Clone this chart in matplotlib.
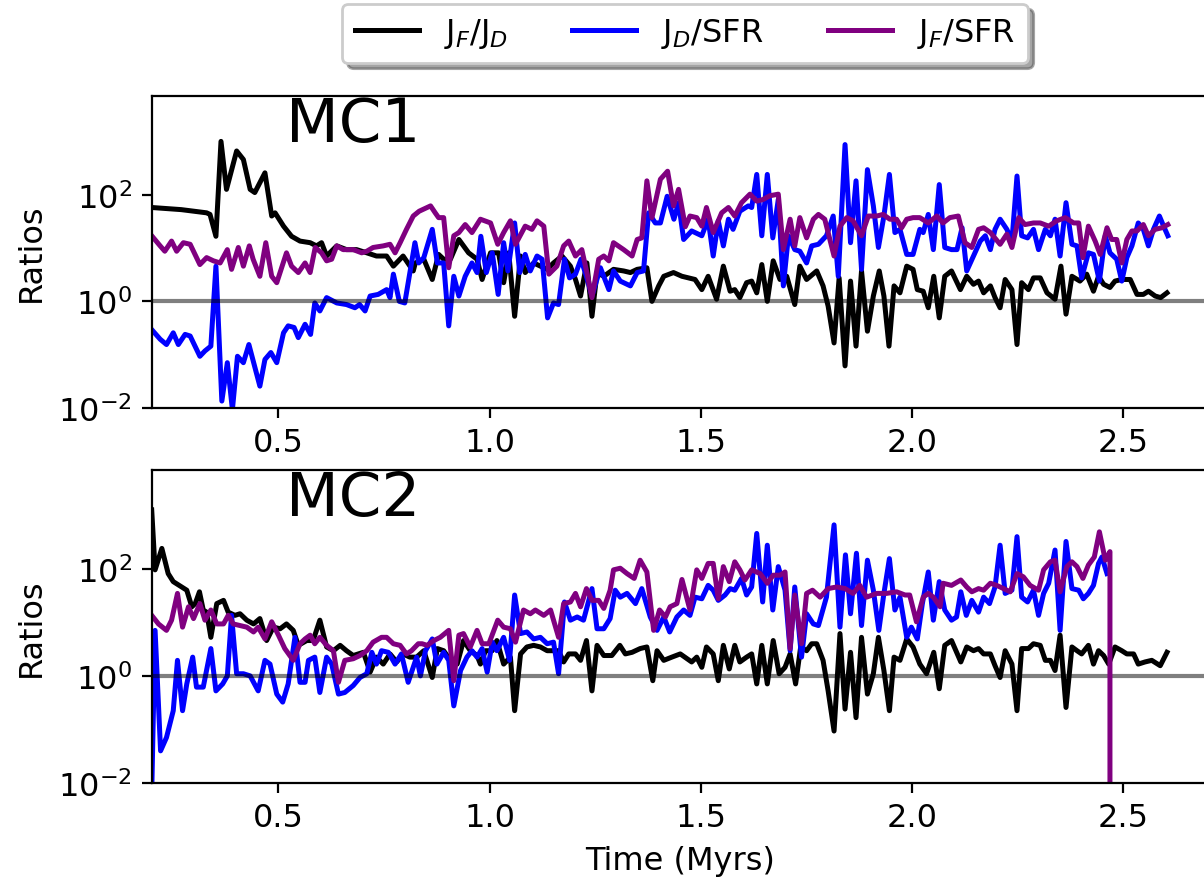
import numpy as np
import matplotlib
matplotlib.use('Agg')
import matplotlib.pyplot as plt
from matplotlib.ticker import NullLocator

plt.rcParams['font.size'] = 11.5

# values: (time in Myrs, log10 of the ratio)
# MC1 -- J_F/J_D
mc1_jf_jd = [(0.200, 1.76), (0.270, 1.72), (0.330, 1.66), (0.338, 1.63), (0.352, 1.22), (0.364, 3.0),
             (0.377, 2.1), (0.401, 2.82), (0.417, 2.66), (0.433, 2.1), (0.444, 2.04), (0.468, 2.41),
             (0.484, 1.6), (0.492, 1.66), (0.512, 1.41), (0.531, 1.22), (0.551, 1.13), (0.575, 1.1),
             (0.590, 1.04), (0.602, 1.1), (0.614, 0.85), (0.638, 1.04), (0.661, 0.97), (0.685, 0.97),
             (0.709, 0.91), (0.732, 0.85), (0.756, 0.85), (0.772, 0.66), (0.795, 0.85), (0.819, 0.57),
             (0.824, 0.72), (0.844, 0.79), (0.864, 0.41), (0.879, 0.88), (0.891, 0.79), (0.907, 0.79),
             (0.927, 1.16), (0.950, 0.91), (0.970, 0.79), (0.982, 0.41), (1.002, 0.91), (1.021, 0.91),
             (1.033, 0.35), (1.045, 0.91), (1.059, -0.28), (1.073, 0.85), (1.084, 0.54), (1.104, 0.72),
             (1.120, 0.66), (1.136, 0.6), (1.151, 0.72), (1.171, 0.85), (1.191, 0.66), (1.203, 0.41),
             (1.215, 0.1), (1.230, 0.72), (1.242, -0.28), (1.254, 0.54), (1.270, 0.47), (1.293, 0.6),
             (1.317, 0.57), (1.333, 0.54), (1.349, 0.6), (1.372, 0.63), (1.384, 0.0), (1.400, 0.29),
             (1.412, 0.47), (1.435, 0.54), (1.455, 0.47), (1.486, 0.41), (1.502, 0.22), (1.517, 0.47),
             (1.537, 0.04), (1.553, 0.66), (1.569, 0.19), (1.580, 0.22), (1.592, 0.07), (1.608, 0.35),
             (1.620, 0.38), (1.632, 0.16), (1.644, 0.69), (1.657, 0.0), (1.671, 0.76), (1.687, 0.41),
             (1.703, 0.47), (1.722, -0.06), (1.734, 0.66), (1.750, 0.41), (1.774, 0.57), (1.789, 0.29),
             (1.801, -0.09), (1.815, -0.78), (1.827, 0.44), (1.841, -1.21), (1.854, 0.38), (1.867, -0.84),
             (1.880, 0.57), (1.894, -0.56), (1.908, 0.1), (1.922, 0.57), (1.933, 0.1), (1.945, -0.84),
             (1.957, 0.29), (1.971, 0.16), (1.987, 0.66), (2.002, 0.6), (2.012, 0.22), (2.026, 0.19),
             (2.038, -0.12), (2.051, 0.47), (2.064, -0.31), (2.077, 0.47), (2.093, 0.57), (2.114, 0.22),
             (2.129, 0.47), (2.145, 0.32), (2.157, 0.38), (2.169, 0.16), (2.185, 0.29), (2.196, 0.07),
             (2.208, -0.12), (2.220, 0.41), (2.236, 0.22), (2.248, -0.81), (2.259, 0.35), (2.275, 0.22),
             (2.287, 0.44), (2.303, 0.44), (2.319, 0.16), (2.338, 0.04), (2.352, 0.66), (2.364, -0.24),
             (2.378, 0.47), (2.397, 0.38), (2.413, 0.51), (2.429, 0.19), (2.441, 0.47), (2.453, 0.32),
             (2.468, 0.26), (2.480, 0.38), (2.496, 0.41), (2.516, 0.41), (2.532, 0.13), (2.547, 0.13),
             (2.559, 0.19), (2.575, 0.1), (2.588, 0.07), (2.603, 0.16)]

# MC1 -- J_D/SFR
mc1_jd_sfr = [(0.200, -0.53), (0.220, -0.71), (0.235, -0.81), (0.251, -0.59), (0.263, -0.81), (0.279, -0.62),
              (0.291, -0.65), (0.314, -1.03), (0.326, -0.93), (0.340, -0.84), (0.352, 0.66), (0.366, -1.87),
              (0.379, -1.15), (0.391, -2.03), (0.403, -1.03), (0.417, -1.15), (0.430, -0.81), (0.456, -1.59),
              (0.468, -1.09), (0.482, -0.96), (0.496, -1.15), (0.512, -0.59), (0.523, -0.46), (0.537, -0.49),
              (0.547, -0.68), (0.563, -0.43), (0.576, -0.62), (0.586, -0.03), (0.598, -0.18), (0.614, 0.07),
              (0.638, -0.03), (0.661, -0.06), (0.681, -0.12), (0.692, -0.06), (0.705, -0.18), (0.717, 0.10),
              (0.736, 0.13), (0.756, 0.22), (0.764, 0.07), (0.772, 0.51), (0.786, 0.00), (0.799, -0.03),
              (0.823, 1.10), (0.832, 0.72), (0.844, 0.82), (0.864, 1.35), (0.876, 0.72), (0.891, 0.72),
              (0.903, -0.46), (0.915, 0.47), (0.927, 0.10), (0.942, 0.47), (0.958, 0.72), (0.970, 0.54),
              (0.979, 1.22), (0.992, 0.54), (1.006, 0.91), (1.020, 0.13), (1.033, 1.10), (1.043, 0.57),
              (1.059, 1.47), (1.071, 0.54), (1.084, 0.88), (1.096, 0.57), (1.112, 0.85), (1.124, 0.79),
              (1.137, -0.31), (1.151, -0.03), (1.163, -0.06), (1.177, 0.79), (1.189, 0.44), (1.203, 0.51),
              (1.216, 0.79), (1.230, 0.44), (1.242, 0.10), (1.262, 0.63), (1.282, 0.22), (1.293, 0.57),
              (1.309, 0.38), (1.333, 0.29), (1.349, 0.54), (1.364, 0.57), (1.376, 1.66), (1.392, 1.47),
              (1.404, 1.47), (1.420, 1.97), (1.436, 1.54), (1.447, 1.85), (1.459, 1.16), (1.478, 1.32),
              (1.502, 1.23), (1.517, 1.54), (1.529, 0.85), (1.541, 1.51), (1.553, 1.04), (1.565, 1.54),
              (1.576, 1.35), (1.592, 1.69), (1.612, 1.79), (1.620, 1.76), (1.632, 2.38), (1.644, 1.23),
              (1.657, 2.38), (1.670, 1.19), (1.683, 1.91), (1.695, 0.29), (1.707, 1.23), (1.722, 0.97),
              (1.734, 0.94), (1.750, 0.72), (1.762, 1.04), (1.778, 1.07), (1.797, 1.23), (1.813, 1.6),
              (1.825, 0.47), (1.841, 2.94), (1.854, 1.1), (1.867, 2.26), (1.880, 0.6), (1.894, 2.47),
              (1.908, 1.79), (1.920, 1.01), (1.933, 1.6), (1.946, 2.38), (1.959, 1.29), (1.971, 1.35),
              (1.987, 0.88), (2.002, 0.88), (2.018, 1.35), (2.026, 1.29), (2.038, 1.63), (2.050, 0.97),
              (2.064, 2.19), (2.077, 1.01), (2.093, 0.97), (2.106, 0.97), (2.118, 1.38), (2.129, 0.57),
              (2.145, 0.85), (2.161, 1.13), (2.173, 1.23), (2.185, 0.97), (2.196, 1.35), (2.208, 1.54),
              (2.224, 1.35), (2.236, 1.13), (2.248, 2.35), (2.259, 1.23), (2.273, 1.19), (2.287, 1.35),
              (2.299, 0.97), (2.315, 1.35), (2.327, 1.23), (2.338, 1.54), (2.350, 0.85), (2.364, 1.85),
              (2.378, 1.07), (2.390, 1.04), (2.401, 0.44), (2.417, 0.91), (2.429, 0.88), (2.443, 0.38),
              (2.457, 1.23), (2.468, 0.91), (2.484, 0.79), (2.496, 0.38), (2.508, 0.82), (2.520, 1.04),
              (2.535, 1.47), (2.547, 1.35), (2.559, 1.04), (2.571, 1.35), (2.585, 1.6), (2.595, 1.41),
              (2.605, 1.23)]

# MC1 -- J_F/SFR
mc1_jf_sfr = [(0.200, 1.23), (0.220, 1.04), (0.231, 0.94), (0.247, 1.13), (0.259, 0.94), (0.275, 1.1),
              (0.291, 1.07), (0.314, 0.69), (0.330, 0.82), (0.346, 0.76), (0.362, 0.72), (0.379, 0.97),
              (0.389, 0.6), (0.405, 1.01), (0.417, 0.66), (0.431, 1.04), (0.440, 0.79), (0.456, 0.47),
              (0.470, 1.1), (0.484, 0.47), (0.496, 0.35), (0.519, 0.91), (0.531, 0.66), (0.547, 0.54),
              (0.563, 0.72), (0.575, 0.54), (0.587, 1.01), (0.602, 0.91), (0.614, 0.76), (0.626, 0.79),
              (0.638, 1.04), (0.653, 0.97), (0.677, 0.97), (0.697, 0.91), (0.709, 0.94), (0.724, 1.01),
              (0.748, 1.04), (0.764, 1.07), (0.776, 0.91), (0.788, 1.1), (0.803, 1.35), (0.819, 1.6),
              (0.833, 1.69), (0.844, 1.73), (0.860, 1.79), (0.871, 1.66), (0.879, 1.57), (0.891, 1.57),
              (0.903, 0.63), (0.915, 1.23), (0.927, 1.29), (0.942, 1.44), (0.958, 1.29), (0.978, 1.54),
              (1.002, 1.47), (1.019, 1.07), (1.033, 1.29), (1.049, 1.51), (1.061, 1.07), (1.084, 1.41),
              (1.100, 1.35), (1.112, 1.51), (1.128, 1.41), (1.140, 0.51), (1.159, 0.66), (1.175, 1.04),
              (1.187, 1.13), (1.203, 0.85), (1.218, 0.97), (1.230, 0.54), (1.242, 0.07), (1.258, 0.79),
              (1.270, 0.85), (1.282, 0.76), (1.293, 1.1), (1.317, 0.97), (1.337, 0.85), (1.349, 1.16),
              (1.360, 1.19), (1.372, 2.26), (1.384, 1.57), (1.404, 2.29), (1.421, 2.44), (1.435, 1.79),
              (1.447, 2.1), (1.463, 1.4), (1.474, 1.6), (1.490, 1.57), (1.502, 1.41), (1.513, 1.76),
              (1.529, 1.29), (1.549, 1.66), (1.565, 1.76), (1.580, 1.6), (1.596, 1.85), (1.616, 2.01),
              (1.632, 1.88), (1.647, 1.91), (1.663, 1.98), (1.683, 2.01), (1.695, 0.97), (1.711, 1.54),
              (1.722, 1.04), (1.734, 1.57), (1.750, 1.19), (1.766, 1.54), (1.778, 1.63), (1.793, 1.54),
              (1.815, 0.85), (1.829, 1.41), (1.845, 1.57), (1.860, 1.51), (1.880, 1.23), (1.896, 1.6),
              (1.916, 1.6), (1.931, 1.63), (1.947, 1.54), (1.963, 1.54), (1.975, 1.38), (1.987, 1.54),
              (2.002, 1.57), (2.018, 1.57), (2.038, 1.47), (2.058, 1.6), (2.073, 1.47), (2.089, 1.57),
              (2.109, 1.6), (2.125, 1.1), (2.141, 1.01), (2.157, 1.35), (2.169, 1.38), (2.185, 1.29),
              (2.208, 1.07), (2.224, 1.26), (2.236, 1.01), (2.252, 1.57), (2.267, 1.44), (2.287, 1.47),
              (2.303, 1.47), (2.323, 1.41), (2.342, 1.51), (2.362, 1.57), (2.382, 1.47), (2.394, 1.47),
              (2.404, 0.82), (2.417, 1.41), (2.433, 1.13), (2.445, 0.88), (2.461, 1.38), (2.472, 1.16),
              (2.484, 1.16), (2.496, 0.72), (2.508, 1.16), (2.520, 1.32), (2.532, 1.32), (2.547, 1.44),
              (2.559, 1.23), (2.575, 1.35), (2.591, 1.38), (2.605, 1.44)]

# MC2 -- J_F/J_D
mc2_jf_jd = [(0.200, 3.1), (0.208, 1.98), (0.224, 2.38), (0.239, 1.91), (0.251, 1.76), (0.271, 1.66),
             (0.283, 1.6), (0.295, 1.29), (0.303, 1.35), (0.313, 1.57), (0.322, 1.23), (0.330, 1.19),
             (0.340, 0.72), (0.354, 1.35), (0.370, 1.41), (0.381, 1.19), (0.397, 1.13), (0.409, 1.16),
             (0.425, 1.04), (0.441, 0.97), (0.456, 1.07), (0.472, 0.66), (0.488, 0.91), (0.504, 0.88),
             (0.519, 0.97), (0.535, 0.85), (0.547, 0.57), (0.567, 0.66), (0.582, 0.66), (0.598, 1.04),
             (0.614, 0.54), (0.630, 0.47), (0.646, 0.57), (0.661, 0.47), (0.677, 0.38), (0.701, 0.44),
             (0.717, 0.07), (0.732, 0.35), (0.748, 0.22), (0.764, 0.41), (0.780, 0.26), (0.795, 0.41),
             (0.811, 0.35), (0.827, 0.35), (0.844, 0.47), (0.864, -0.03), (0.876, 0.51), (0.891, 0.47),
             (0.907, 0.29), (0.923, 0.22), (0.938, 0.66), (0.954, 0.47), (0.970, 0.38), (0.978, 0.22),
             (0.990, 0.47), (1.006, 0.47), (1.017, 0.66), (1.033, 0.22), (1.049, 0.35), (1.059, -0.65),
             (1.073, 0.41), (1.088, 0.54), (1.104, 0.57), (1.120, 0.54), (1.136, 0.47), (1.151, 0.47),
             (1.163, 0.47), (1.175, 0.26), (1.187, 0.41), (1.203, 0.41), (1.215, 0.29), (1.229, 0.66),
             (1.242, -0.28), (1.254, 0.57), (1.270, 0.38), (1.289, 0.38), (1.308, 0.57), (1.321, 0.41),
             (1.337, 0.44), (1.356, 0.51), (1.372, 0.54), (1.386, -0.09), (1.396, 0.47), (1.412, 0.29),
             (1.431, 0.35), (1.451, 0.41), (1.478, 0.26), (1.490, 0.35), (1.502, 0.16), (1.513, 0.54),
             (1.529, 0.41), (1.541, -0.09), (1.553, 0.57), (1.567, 0.13), (1.580, 0.57), (1.592, 0.26),
             (1.608, 0.35), (1.620, 0.41), (1.632, -0.15), (1.644, 0.57), (1.657, -0.15), (1.671, 0.66),
             (1.685, 0.04), (1.699, 0.16), (1.711, 0.41), (1.724, -0.15), (1.736, 0.54), (1.750, 0.47),
             (1.762, 0.6), (1.774, 0.6), (1.789, 0.29), (1.801, -0.28), (1.815, -1.03), (1.829, 0.79),
             (1.841, -0.62), (1.854, 0.44), (1.867, -0.78), (1.880, 0.72), (1.894, -0.34), (1.908, 0.04),
             (1.920, 0.72), (1.933, 0.1), (1.946, -0.65), (1.957, 0.35), (1.971, 0.29), (1.987, 0.69),
             (2.002, 0.54), (2.018, 0.22), (2.034, 0.04), (2.051, 0.44), (2.064, -0.24), (2.077, 0.57),
             (2.093, 0.66), (2.115, 0.26), (2.129, 0.54), (2.145, 0.47), (2.157, 0.51), (2.169, 0.41),
             (2.185, 0.41), (2.196, 0.19), (2.208, -0.03), (2.220, 0.47), (2.236, 0.22), (2.248, -0.65),
             (2.259, 0.51), (2.275, 0.51), (2.287, 0.6), (2.303, 0.57), (2.315, 0.29), (2.327, 0.29),
             (2.338, 0.1), (2.350, 0.76), (2.364, -0.59), (2.378, 0.54), (2.390, 0.47), (2.401, 0.41),
             (2.417, 0.57), (2.429, 0.22), (2.441, 0.47), (2.453, 0.38), (2.465, 0.22), (2.480, 0.54),
             (2.496, 0.47), (2.508, 0.41), (2.524, 0.41), (2.535, 0.22), (2.551, 0.26), (2.567, 0.29),
             (2.587, 0.19), (2.603, 0.44)]

# MC2 -- J_D/SFR
mc2_jd_sfr = [(0.200, -2.2), (0.208, 0.85), (0.221, -1.4), (0.235, -1.15), (0.251, -0.65), (0.261, 0.29),
              (0.273, -0.65), (0.283, -0.15), (0.297, 0.35), (0.306, -0.21), (0.322, -0.21), (0.340, 0.51),
              (0.352, -0.28), (0.368, -0.15), (0.379, 0.0), (0.389, 1.13), (0.401, 0.04), (0.417, 0.04),
              (0.433, 0.0), (0.452, -0.28), (0.468, 0.29), (0.480, 0.22), (0.496, -0.34), (0.510, -0.49),
              (0.523, -0.15), (0.539, 0.72), (0.551, -0.12), (0.563, -0.12), (0.571, 0.29), (0.586, 0.35),
              (0.598, -0.31), (0.614, 0.35), (0.626, 0.22), (0.642, -0.34), (0.657, -0.31), (0.677, -0.18),
              (0.693, -0.03), (0.709, 0.04), (0.721, 0.44), (0.732, 0.22), (0.744, 0.47), (0.760, 0.44),
              (0.776, 0.22), (0.791, 0.41), (0.807, -0.12), (0.827, 0.35), (0.836, 0.0), (0.848, 0.47),
              (0.864, 0.69), (0.875, 0.22), (0.891, 0.44), (0.903, 0.29), (0.915, -0.56), (0.931, 0.1),
              (0.946, 0.35), (0.958, 0.47), (0.970, 0.35), (0.982, 0.51), (0.994, 0.07), (1.006, 0.63),
              (1.017, 0.47), (1.033, 0.72), (1.047, 0.29), (1.059, 1.51), (1.073, 0.79), (1.088, 0.82),
              (1.104, 0.69), (1.120, 0.72), (1.136, 0.6), (1.151, 0.63), (1.163, 0.04), (1.177, 1.38),
              (1.191, 1.04), (1.207, 1.1), (1.222, 1.04), (1.242, 1.63), (1.254, 0.88), (1.270, 0.88),
              (1.285, 1.07), (1.297, 1.6), (1.309, 1.47), (1.325, 1.54), (1.345, 1.35), (1.360, 1.63),
              (1.380, 1.1), (1.396, 0.85), (1.412, 1.1), (1.426, 0.82), (1.443, 1.1), (1.459, 1.23),
              (1.474, 1.13), (1.486, 1.47), (1.502, 1.44), (1.517, 1.69), (1.529, 1.6), (1.541, 1.41),
              (1.557, 1.51), (1.569, 1.63), (1.580, 1.6), (1.596, 1.82), (1.608, 1.51), (1.620, 1.66),
              (1.632, 2.66), (1.646, 1.38), (1.657, 2.44), (1.670, 1.23), (1.683, 2.04), (1.699, 1.6),
              (1.711, 0.47), (1.722, 1.66), (1.738, 0.35), (1.750, 1.16), (1.766, 0.97), (1.778, 0.94),
              (1.797, 1.47), (1.815, 2.82), (1.829, 0.91), (1.842, 2.26), (1.854, 1.16), (1.868, 2.29),
              (1.880, 0.94), (1.894, 2.16), (1.908, 1.6), (1.921, 0.85), (1.933, 1.54), (1.946, 2.19),
              (1.959, 1.23), (1.971, 1.47), (1.987, 0.72), (1.998, 0.91), (2.012, 0.69), (2.024, 1.35),
              (2.038, 1.94), (2.050, 1.04), (2.064, 1.76), (2.077, 1.23), (2.093, 1.04), (2.105, 1.1),
              (2.115, 1.57), (2.128, 1.13), (2.141, 1.41), (2.157, 1.19), (2.169, 1.47), (2.183, 1.35),
              (2.196, 1.66), (2.208, 2.44), (2.220, 1.54), (2.236, 1.6), (2.248, 2.6), (2.259, 1.47),
              (2.273, 1.38), (2.287, 1.6), (2.299, 1.13), (2.311, 1.54), (2.323, 1.73), (2.338, 2.35),
              (2.350, 0.85), (2.364, 2.51), (2.378, 1.63), (2.394, 1.6), (2.405, 1.44), (2.417, 1.54),
              (2.429, 1.69), (2.441, 2.1), (2.449, 2.22), (2.461, 1.91)]

# MC2 -- J_F/SFR (drops to zero at the last output)
mc2_jf_sfr = [(0.200, 1.13), (0.216, 0.97), (0.235, 0.85), (0.247, 1.04), (0.261, 1.54), (0.273, 0.91),
              (0.287, 1.29), (0.299, 1.07), (0.314, 1.35), (0.326, 1.04), (0.340, 1.23), (0.354, 0.97),
              (0.370, 0.97), (0.381, 1.13), (0.393, 0.97), (0.409, 0.94), (0.425, 0.91), (0.441, 0.82),
              (0.452, 0.91), (0.468, 0.69), (0.484, 1.01), (0.500, 0.76), (0.515, 0.51), (0.535, 0.29),
              (0.551, 0.6), (0.563, 0.69), (0.575, 0.76), (0.586, 0.6), (0.598, 0.72), (0.614, 0.57),
              (0.630, 0.47), (0.642, -0.12), (0.657, 0.29), (0.677, 0.32), (0.693, 0.38), (0.709, 0.47),
              (0.724, 0.63), (0.744, 0.72), (0.756, 0.72), (0.772, 0.6), (0.788, 0.57), (0.803, 0.41),
              (0.815, 0.47), (0.831, 0.6), (0.840, 0.6), (0.852, 0.57), (0.868, 0.66), (0.883, 0.72),
              (0.903, 0.85), (0.915, -0.09), (0.927, 0.76), (0.938, 0.79), (0.954, 0.54), (0.970, 0.85),
              (0.982, 0.6), (0.998, 0.6), (1.019, 1.04), (1.033, 0.91), (1.049, 0.88), (1.061, 0.63),
              (1.080, 1.23), (1.096, 1.16), (1.108, 1.23), (1.128, 1.13), (1.144, 1.23), (1.163, 0.72),
              (1.175, 1.35), (1.191, 1.38), (1.203, 1.54), (1.215, 1.29), (1.229, 1.63), (1.242, 1.41),
              (1.258, 1.41), (1.270, 1.26), (1.285, 1.6), (1.293, 1.98), (1.309, 2.01), (1.325, 1.91),
              (1.342, 1.82), (1.356, 2.16), (1.372, 1.94), (1.388, 0.85), (1.402, 1.23), (1.416, 1.1),
              (1.427, 1.29), (1.443, 1.35), (1.455, 1.8), (1.474, 1.23), (1.490, 1.98), (1.502, 1.82),
              (1.517, 2.1), (1.529, 2.1), (1.541, 1.44), (1.553, 2.04), (1.567, 1.76), (1.580, 2.13),
              (1.592, 1.98), (1.604, 1.79), (1.620, 1.98), (1.640, 1.91), (1.657, 1.73), (1.671, 1.88),
              (1.687, 1.88), (1.699, 1.94), (1.711, 0.51), (1.722, 1.51), (1.738, 0.6), (1.750, 1.54),
              (1.764, 1.6), (1.782, 1.47), (1.801, 1.63), (1.821, 1.66), (1.841, 1.63), (1.860, 1.54),
              (1.876, 1.69), (1.892, 1.47), (1.916, 1.54), (1.939, 1.54), (1.963, 1.57), (1.983, 1.51),
              (1.994, 1.51), (2.010, 1.01), (2.026, 1.47), (2.038, 1.54), (2.050, 1.47), (2.066, 1.29),
              (2.073, 1.73), (2.093, 1.69), (2.115, 1.79), (2.129, 1.66), (2.141, 1.57), (2.157, 1.63),
              (2.169, 1.6), (2.185, 1.73), (2.200, 1.69), (2.216, 1.63), (2.232, 1.57), (2.248, 1.91),
              (2.263, 1.85), (2.279, 1.69), (2.299, 1.6), (2.311, 1.98), (2.327, 2.13), (2.338, 2.16),
              (2.350, 1.57), (2.366, 2.04), (2.378, 2.13), (2.390, 2.04), (2.404, 1.82), (2.417, 2.07),
              (2.431, 2.22), (2.443, 2.69), (2.457, 2.16), (2.468, 2.32), (2.470, -np.inf)]

panels = [('MC1', mc1_jf_jd, mc1_jd_sfr, mc1_jf_sfr),
          ('MC2', mc2_jf_jd, mc2_jd_sfr, mc2_jf_sfr)]


def unpack(pairs):
    arr = np.array(pairs, dtype=float)
    return arr[:, 0], 10.0 ** arr[:, 1]


fig = plt.figure(figsize=(6.02, 4.395), dpi=200)
axes = [fig.add_axes([0.126, 0.5347, 0.8773, 0.3546]),
        fig.add_axes([0.126, 0.1081, 0.8773, 0.3561])]

LW = 1.8
for ax, (name, ff, fd, fs) in zip(axes, panels):
    t, y = unpack(ff)
    ax.plot(t, y, color='k', lw=LW, label=r'J$_F$/J$_D$')
    t, y = unpack(fd)
    ax.plot(t, y, color='b', lw=LW, label=r'J$_D$/SFR')
    ax.axhline(1.0, color='k', alpha=0.5, lw=1.5)
    t, y = unpack(fs)
    ax.plot(t, y, color='purple', lw=LW, label=r'J$_F$/SFR')

    ax.set_yscale('log')
    ax.set_xlim(0.2, 2.7)
    ax.set_ylim(1e-2, 7e3)
    ax.set_yticks([1e-2, 1e0, 1e2])
    ax.yaxis.set_minor_locator(NullLocator())
    ax.set_ylabel('Ratios')
    ax.text(0.517, 1e3, name, fontsize=22)

axes[1].set_xlabel('Time (Myrs)')

handles, labels = axes[0].get_legend_handles_labels()
fig.legend(handles, labels, loc='upper center', bbox_to_anchor=(0.569, 1.013),
           ncol=3, shadow=True)

fig.savefig('out.png', dpi=200)
